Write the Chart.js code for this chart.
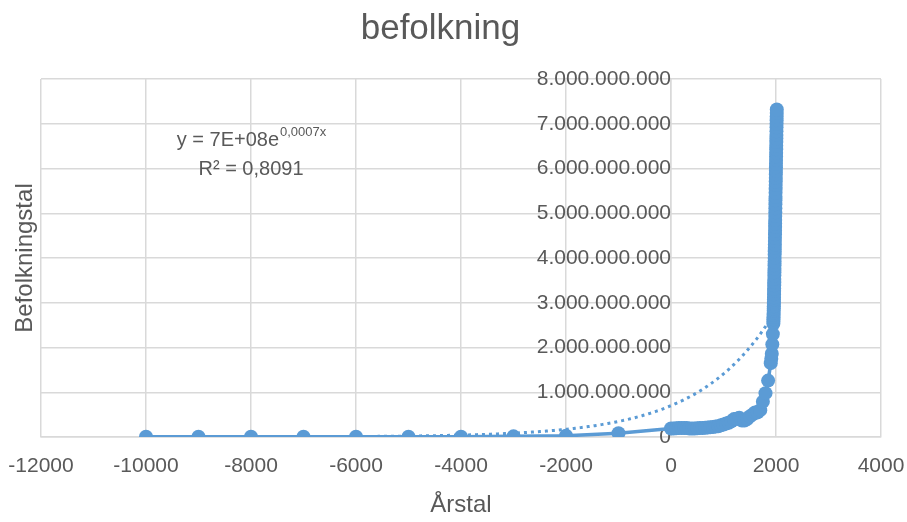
<!DOCTYPE html>
<html>
<head>
<meta charset="utf-8">
<script src="https://cdn.jsdelivr.net/npm/chart.js@4.4.1/dist/chart.umd.min.js"></script>
<style>
html,body{margin:0;padding:0;background:#ffffff;}
canvas{display:block;}
</style>
</head>
<body>
<canvas id="c" width="907" height="522"></canvas>
<script>
// ---- data ----
const TITLE = 'befolkning';
const X_TITLE = 'Årstal';
const Y_TITLE = 'Befolkningstal';

const YEARS = [
  -10000, -9000, -8000, -7000, -6000, -5000, -4000, -3000, -2000, -1000,
  0, 50, 100, 150, 200, 250, 300, 350, 400, 450, 500, 550, 600, 650, 700, 750,
  800, 850, 900, 950, 1000, 1050, 1100, 1150, 1200, 1250, 1300, 1350, 1400,
  1450, 1500, 1550, 1600, 1650, 1700, 1750, 1800, 1850, 1900, 1910, 1920,
  1930, 1940,
  1950, 1951, 1952, 1953, 1954, 1955, 1956, 1957, 1958, 1959,
  1960, 1961, 1962, 1963, 1964, 1965, 1966, 1967, 1968, 1969,
  1970, 1971, 1972, 1973, 1974, 1975, 1976, 1977, 1978, 1979,
  1980, 1981, 1982, 1983, 1984, 1985, 1986, 1987, 1988, 1989,
  1990, 1991, 1992, 1993, 1994, 1995, 1996, 1997, 1998, 1999,
  2000, 2001, 2002, 2003, 2004, 2005, 2006, 2007, 2008, 2009,
  2010, 2011, 2012, 2013, 2014, 2015
];
// population in millions
const POP_MILLIONS = [
  4, 5, 5, 5, 5, 5, 7, 14, 27, 85,
  190, 190, 195, 200, 200, 200, 200, 190, 190, 190, 195, 200, 200, 205, 210, 220,
  225, 235, 240, 260, 280, 300, 320, 350, 400, 410, 430, 370, 370,
  400, 460, 500, 550, 550, 600, 790, 980, 1260, 1650, 1750, 1860,
  2070, 2300,
  2530, 2580, 2630, 2680, 2730, 2770, 2820, 2870, 2920, 2970,
  3020, 3070, 3120, 3190, 3260, 3320, 3390, 3460, 3530, 3610,
  3680, 3760, 3840, 3920, 4000, 4080, 4150, 4230, 4300, 4380,
  4450, 4530, 4610, 4690, 4770, 4850, 4940, 5020, 5110, 5200,
  5290, 5370, 5460, 5540, 5630, 5710, 5790, 5870, 5950, 6030,
  6110, 6190, 6270, 6350, 6430, 6510, 6590, 6670, 6750, 6830,
  6920, 7000, 7080, 7160, 7240, 7320
];

const X_TICKS = [-12000, -10000, -8000, -6000, -4000, -2000, 0, 2000, 4000];
const Y_TICKS = [0, 1e9, 2e9, 3e9, 4e9, 5e9, 6e9, 7e9, 8e9];

// exponential trendline as printed on the chart: y = 7E+08 e^(0,0007x)
const TREND_A = 7e8;
const TREND_B = 0.0007;
const EQ_MAIN = 'y = 7E+08e';
const EQ_EXP = '0,0007x';
const EQ_R2 = 'R² = 0,8091';

// ---- build library structures ----
const FONT = '"Liberation Sans", Arial, sans-serif';
const TEXT = '#595959';
const GRID = '#d9d9d9';
const BLUE = '#5b9bd5';

const points = YEARS.map((yr, i) => ({x: yr, y: POP_MILLIONS[i] * 1e6}));
const trend = [];
for (let yr = YEARS[0]; yr <= YEARS[YEARS.length - 1]; yr += 25) {
  trend.push({x: yr, y: TREND_A * Math.exp(TREND_B * yr)});
}
trend.push({x: YEARS[YEARS.length - 1], y: TREND_A * Math.exp(TREND_B * YEARS[YEARS.length - 1])});

function fmtDots(v) {
  return String(Math.round(v)).replace(/\B(?=(\d{3})+(?!\d))/g, '.');
}

const eqPlugin = {
  id: 'equation',
  afterDatasetsDraw(chart) {
    const ctx = chart.ctx;
    const xs = chart.scales.x, ys = chart.scales.y;
    const cx = xs.getPixelForValue(-8000);
    ctx.save();
    ctx.fillStyle = TEXT;
    ctx.textBaseline = 'alphabetic';
    ctx.textAlign = 'left';
    ctx.font = '20px ' + FONT;
    const w1 = ctx.measureText(EQ_MAIN).width;
    ctx.font = '13px ' + FONT;
    const w2 = ctx.measureText(EQ_EXP).width;
    const x0 = cx - (w1 + w2) / 2;
    const b1 = ys.getPixelForValue(6.5e9);
    ctx.font = '20px ' + FONT;
    ctx.fillText(EQ_MAIN, x0, b1);
    ctx.font = '13px ' + FONT;
    ctx.fillText(EQ_EXP, x0 + w1 + 1, b1 - 10);
    ctx.font = '20px ' + FONT;
    ctx.textAlign = 'center';
    ctx.fillText(EQ_R2, cx, ys.getPixelForValue(5.85e9));
    ctx.restore();
  }
};

new Chart(document.getElementById('c'), {
  type: 'scatter',
  data: {
    datasets: [
      {
        label: 'befolkning',
        data: points,
        showLine: true,
        borderColor: BLUE,
        backgroundColor: BLUE,
        borderWidth: 3.5,
        pointRadius: 7,
        pointBorderWidth: 0,
        pointHoverRadius: 7,
        tension: 0,
        order: 0
      },
      {
        label: 'trend',
        data: trend,
        showLine: true,
        borderColor: BLUE,
        borderWidth: 3,
        borderDash: [3, 4],
        pointRadius: 0,
        tension: 0,
        order: 1
      }
    ]
  },
  options: {
    responsive: false,
    animation: false,
    events: [],
    layout: {padding: {top: 0, right: 26, bottom: 0, left: 0}},
    plugins: {
      legend: {display: false},
      tooltip: {enabled: false},
      title: {
        display: true,
        text: TITLE,
        color: TEXT,
        font: {family: FONT, size: 35, weight: 'normal'},
        padding: {top: 8, bottom: 29}
      }
    },
    scales: {
      x: {
        type: 'linear',
        position: 'bottom',
        min: -12000,
        max: 4000,
        afterBuildTicks(s) { s.ticks = X_TICKS.map(v => ({value: v})); },
        afterFit(s) { s.height = 85; s.paddingLeft = 0; s.paddingRight = 0; },
        grid: {color: GRID, lineWidth: 1.5, drawTicks: false},
        border: {color: GRID, width: 1.5},
        ticks: {color: TEXT, font: {family: FONT, size: 21}, padding: 17, maxRotation: 0, autoSkip: false,
                callback: v => String(v)},
        title: {display: true, text: X_TITLE, color: TEXT, font: {family: FONT, size: 24}, padding: {top: 0, bottom: 2}}
      },
      y: {
        type: 'linear',
        position: {x: 0},
        min: 0,
        max: 8e9,
        afterBuildTicks(s) { s.ticks = Y_TICKS.map(v => ({value: v})); },
        grid: {color: GRID, lineWidth: 1.5, drawTicks: false},
        border: {color: GRID, width: 1.5},
        ticks: {color: TEXT, font: {family: FONT, size: 21}, padding: 23, callback: v => fmtDots(v)}
      },
      yt: {
        type: 'linear',
        position: 'left',
        min: 0,
        max: 1,
        afterFit(s) { s.width = 41; },
        grid: {display: false, drawTicks: false},
        border: {display: false},
        ticks: {display: false},
        title: {display: true, text: Y_TITLE, color: TEXT, font: {family: FONT, size: 24}, padding: {top: 11, bottom: 0}}
      }
    }
  },
  plugins: [eqPlugin]
});
</script>
</body>
</html>
